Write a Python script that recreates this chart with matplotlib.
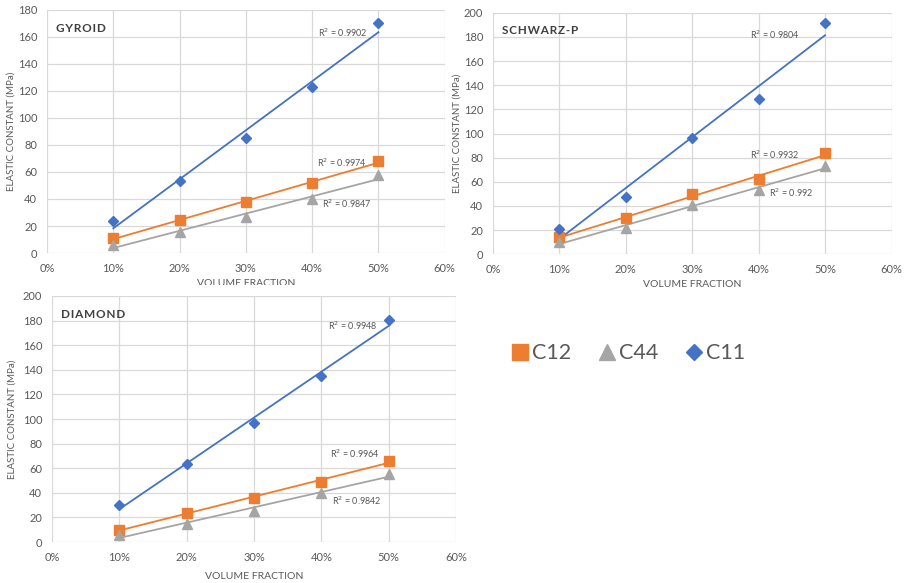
import matplotlib.pyplot as plt
import numpy as np
from matplotlib.patches import Rectangle
from matplotlib.lines import Line2D
from matplotlib.ticker import PercentFormatter, MultipleLocator

# volume fractions
vol_frac = [0.1, 0.2, 0.3, 0.4, 0.5]

# gyroid
gyroid_c11 = [23.5, 53, 85, 123, 170]
gyroid_c12 = [11, 24.5, 37.5, 52, 68]
gyroid_c44 = [6, 15.5, 27, 40, 57.5]
gyroid_r2 = ["0.9902", "0.9974", "0.9847"]

# schwarz-p
schwarz_c11 = [21, 47.5, 96.5, 128.5, 191.5]
schwarz_c12 = [14, 30, 50, 62, 83.5]
schwarz_c44 = [10, 22, 41, 53, 73]
schwarz_r2 = ["0.9804", "0.9932", "0.992"]

# diamond
diamond_c11 = [30, 63.5, 97, 135, 180.5]
diamond_c12 = [10, 23.5, 36, 49, 66]
diamond_c44 = [5.5, 15, 25.5, 39.5, 55.5]
diamond_r2 = ["0.9948", "0.9964", "0.9842"]

BLUE = '#4472C4'
ORANGE = '#ED7D31'
GRAY = '#A5A5A5'
TXT = '#595959'
GRID = '#D9D9D9'

plt.rcParams['font.family'] = ['Lato', 'DejaVu Sans']


def draw_panel(ax, title, c11, c12, c44, r2, ymax, r2_pos, ylab_x, xlab_y):
    """画一个子图: 散点 + 线性趋势线"""
    x = np.array(vol_frac)
    series = [(c12, ORANGE, 's', 7.5), (c44, GRAY, '^', 7), (c11, BLUE, 'D', 5.5)]
    for vals, col, mk, ms in series:
        k, b = np.polyfit(x, vals, 1)
        ax.plot(x, k * x + b, color=col, lw=1.3, zorder=3)
        ax.plot(x, vals, linestyle='none', marker=mk, color=col, markersize=ms, zorder=4)

    ax.set_xlim(0, 0.6)
    ax.set_ylim(0, ymax)
    ax.xaxis.set_major_locator(MultipleLocator(0.1))
    ax.yaxis.set_major_locator(MultipleLocator(20))
    ax.xaxis.set_major_formatter(PercentFormatter(1.0, decimals=0))
    ax.grid(True, color=GRID, lw=0.9, zorder=0)
    ax.set_axisbelow(True)
    for s in ax.spines.values():
        s.set_visible(False)
    ax.tick_params(length=0, labelsize=8, colors=TXT, pad=7)

    ax.set_xlabel('VOLUME FRACTION', fontsize=7.5, color=TXT)
    ax.set_ylabel('ELASTIC CONSTANT (MPa)', fontsize=7, color=TXT)
    ax.yaxis.set_label_coords(ylab_x, 0.5)
    ax.xaxis.set_label_coords(0.5, xlab_y)

    # 标题字母间距稍大
    spaced = '\u200a'.join(title)
    ax.text(0.022, 0.925, spaced, transform=ax.transAxes, fontsize=8.5, fontweight='bold',
            color='#404040', va='center', ha='left', family=['Lato', 'DejaVu Sans'])

    # R^2 标注 (C11, C12, C44)
    for txt, (px, py) in zip(r2, r2_pos):
        ax.text(px, py, f'R$^2$ = {txt}', fontsize=6.5, color=TXT, ha='right', va='center',
                zorder=5)


fig = plt.figure(figsize=(9.06, 5.83), dpi=100)

ax1 = fig.add_axes([0.0519, 0.566, 0.439, 0.417])
ax2 = fig.add_axes([0.544, 0.564, 0.440, 0.414])
ax3 = fig.add_axes([0.0574, 0.0703, 0.446, 0.422], zorder=2)

draw_panel(ax1, 'GYROID', gyroid_c11, gyroid_c12, gyroid_c44, gyroid_r2, 180,
           [(0.483, 163), (0.483, 66.7), (0.49, 36.3)], -0.078, -0.105)
draw_panel(ax2, 'SCHWARZ-P', schwarz_c11, schwarz_c12, schwarz_c44, schwarz_r2, 200,
           [(0.462, 182), (0.462, 82), (0.483, 51)], -0.078, -0.108)
draw_panel(ax3, 'DIAMOND', diamond_c11, diamond_c12, diamond_c44, diamond_r2, 200,
           [(0.483, 176), (0.486, 71.5), (0.489, 33.3)], -0.087, -0.122)

# 下方子图遮住上方子图的x轴标题 (原图如此)
fig.patches.append(Rectangle((0, 0), 0.52, 1 - 285 / 583, transform=fig.transFigure,
                             facecolor='white', edgecolor='none', zorder=1))

handles = [
    Line2D([], [], linestyle='none', marker='s', color=ORANGE, markersize=11),
    Line2D([], [], linestyle='none', marker='^', color=GRAY, markersize=12),
    Line2D([], [], linestyle='none', marker='D', color=BLUE, markersize=8.5),
]
leg = fig.legend(handles, ['C12', 'C44', 'C11'], loc='center', bbox_to_anchor=(0.694, 0.394),
                 ncol=3, frameon=False, fontsize=15.5, handlelength=0.7, handletextpad=0.2,
                 columnspacing=1.3)
for t in leg.get_texts():
    t.set_color(TXT)

plt.savefig('out.png', dpi=100)
